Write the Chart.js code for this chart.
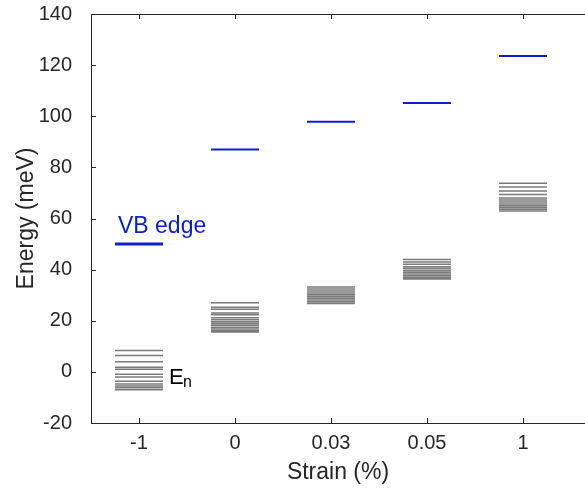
<!DOCTYPE html>
<html>
<head>
<meta charset="utf-8">
<script src="https://cdn.jsdelivr.net/npm/chart.js@4"></script>
<style>
  html, body { margin: 0; padding: 0; background: #fff; overflow: hidden; }
  #wrap { width: 585px; height: 492px; }
</style>
</head>
<body>
<div id="wrap"><canvas id="levelChart" width="585" height="492"></canvas></div>
<script>
// strain values on the x axis
const strainLabels = ["-1", "0", "0.03", "0.05", "1"];
// valence band edge for each strain (meV)
const vbEdge = [50, 87, 97.8, 105.2, 123.6];
// confined levels E_n for each strain (meV)
const levelsM1 = [8.4, 6.4, 4.0, 1.8, 1.0, -0.9, -2.0, -3.7, -4.7, -5.5, -6.2, -7.0];
const levels0 = [27.0, 25.3, 24.5, 23.0, 22.3, 21.2, 20.4, 19.6, 18.9, 18.2, 17.5, 16.8, 16.1, 15.6];
const levels003 = [33.2, 32.4, 31.6, 30.9, 30.2, 29.5, 28.8, 28.1, 27.4, 26.7];
const levels005 = [44.0, 43.0, 42.1, 41.1, 40.4, 39.7, 39.0, 38.3, 37.6, 36.9, 36.3];
const levels1 = [73.8, 72.3, 70.8, 69.4, 68.0, 67.2, 66.5, 65.7, 65.0, 64.3, 63.6, 62.9];
const allLevels = [levelsM1, levels0, levels003, levels005, levels1];

const halfWidth = 0.25;      // half length of each level mark, in category units
const axisColor = "#262626";
const blue = "#0a1ecc";
const font = "Liberation Sans, Arial, sans-serif";

// one short horizontal segment per value, separated by gaps
function segments(groups) {
    const pts = [];
    groups.forEach((vals, i) => {
        const x = i + 1;
        vals.forEach(v => {
            pts.push({x: x - halfWidth, y: v});
            pts.push({x: x + halfWidth, y: v});
            pts.push({x: x, y: null});
        });
    });
    return pts;
}

// box top line, inward ticks and the two text annotations
const framePlugin = {
    id: "frame",
    afterDraw(chart) {
        const {ctx, chartArea: a, scales: {x, y}} = chart;
        ctx.save();
        ctx.strokeStyle = axisColor;
        ctx.lineWidth = 1;
        ctx.beginPath();
        ctx.moveTo(a.left, a.top + 0.5);
        ctx.lineTo(a.right, a.top + 0.5);
        x.ticks.forEach(t => {
            const px = Math.round(x.getPixelForValue(t.value)) + 0.5;
            ctx.moveTo(px, a.bottom); ctx.lineTo(px, a.bottom - 5);
            ctx.moveTo(px, a.top); ctx.lineTo(px, a.top + 5);
        });
        y.ticks.forEach(t => {
            const py = Math.round(y.getPixelForValue(t.value)) + 0.5;
            ctx.moveTo(a.left, py); ctx.lineTo(a.left + 5, py);
        });
        ctx.stroke();

        ctx.textBaseline = "middle";
        ctx.textAlign = "left";
        ctx.fillStyle = blue;
        ctx.font = "23px " + font;
        ctx.fillText("VB edge", x.getPixelForValue(1) - 21, y.getPixelForValue(56.8));

        ctx.fillStyle = "#000";
        ctx.font = "22px " + font;
        const ex = x.getPixelForValue(1) + 30;
        const ey = y.getPixelForValue(-2.3);
        ctx.fillText("E", ex, ey);
        ctx.font = "16px " + font;
        ctx.fillText("n", ex + 14, ey + 5);
        ctx.restore();
    }
};

const ctx = document.getElementById("levelChart").getContext("2d");
new Chart(ctx, {
    type: "line",
    data: {
        datasets: [
            {
                label: "E_n",
                data: segments(allLevels),
                borderColor: "#7a7a7a",
                borderWidth: 1.5,
                pointRadius: 0,
                spanGaps: false
            },
            {
                label: "VB edge",
                data: segments(vbEdge.map(v => [v])),
                borderColor: blue,
                borderWidth: 2,
                segment: {
                    borderWidth: c => (c.p0.parsed.x < 1 ? 3 : 2)
                },
                pointRadius: 0,
                spanGaps: false
            }
        ]
    },
    options: {
        responsive: false,
        animation: false,
        layout: {padding: {top: 14, right: 0, left: 0, bottom: 0}},
        plugins: {
            legend: {display: false},
            tooltip: {enabled: false}
        },
        scales: {
            x: {
                type: "linear",
                min: 0.5,
                max: 0.5 + 494 / 96,
                afterBuildTicks: s => {
                    s.ticks = strainLabels.map((_, i) => ({value: i + 1}));
                },
                afterFit: s => {
                    s.height = 69;
                    s.paddingLeft = 0;
                    s.paddingRight = 0;
                },
                grid: {display: false, drawTicks: false},
                border: {display: true, color: axisColor, width: 1},
                ticks: {
                    color: axisColor,
                    padding: 8,
                    maxRotation: 0,
                    font: {family: font, size: 20},
                    callback: v => strainLabels[v - 1]
                },
                title: {
                    display: true,
                    text: "Strain (%)",
                    color: axisColor,
                    font: {family: font, size: 23},
                    padding: {top: 0, bottom: 6}
                }
            },
            y: {
                min: -20,
                max: 140,
                afterFit: s => {
                    s.width = 91;
                    s.paddingTop = 0;
                    s.paddingBottom = 0;
                },
                grid: {display: false, drawTicks: false},
                border: {display: true, color: axisColor, width: 1},
                ticks: {
                    stepSize: 20,
                    color: axisColor,
                    padding: 19,
                    font: {family: font, size: 20}
                },
                title: {
                    display: true,
                    text: "Energy (meV)",
                    color: axisColor,
                    font: {family: font, size: 23},
                    padding: {top: 13, bottom: 0}
                }
            }
        }
    },
    plugins: [framePlugin]
});
</script>
</body>
</html>
